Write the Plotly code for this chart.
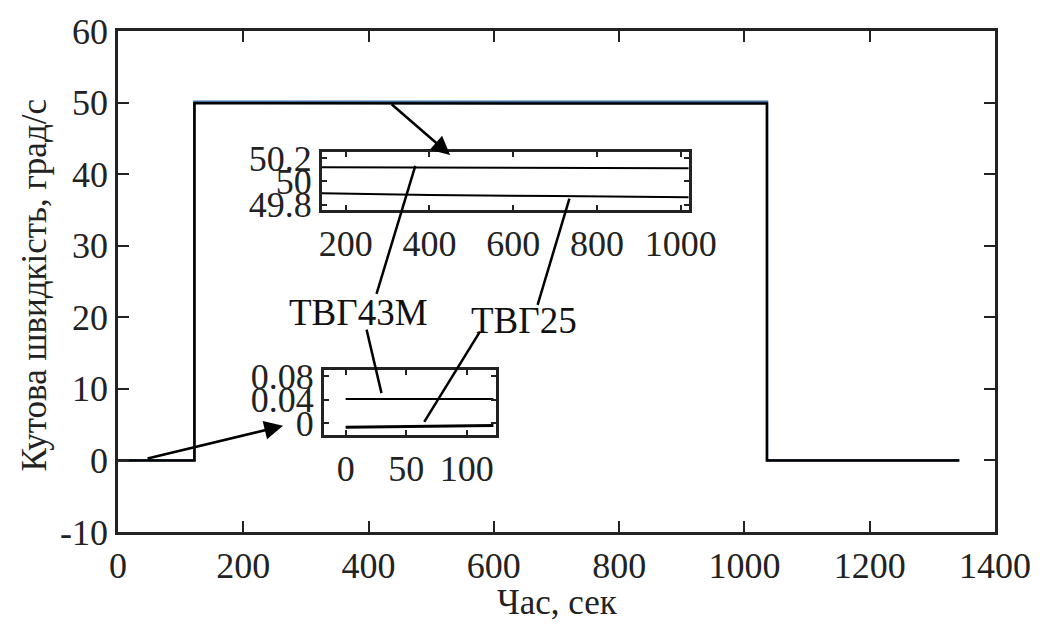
import plotly.graph_objects as go

# ---- data ----
t_main = [0, 122, 122, 1036, 1036, 1343]
tvg43m_main = [0.04, 0.04, 50.12, 50.11, 0.04, 0.04]
tvg25_main = [0.0, 0.0, 49.90, 49.865, 0.0, 0.0]

t_zoom1 = [143, 400, 700, 1019]
tvg43m_zoom1 = [50.12, 50.118, 50.115, 50.112]
tvg25_zoom1 = [49.90, 49.885, 49.875, 49.865]

t_zoom2 = [0, 40, 80, 122]
tvg43m_zoom2 = [0.041, 0.041, 0.041, 0.041]
tvg25_zoom2 = [-0.007, -0.006, -0.005, -0.004]

main_xticks = [0, 200, 400, 600, 800, 1000, 1200, 1400]
main_yticks = [-10, 0, 10, 20, 30, 40, 50, 60]
main_yticklabels = ["-10", "0", "10", "20", "30", "40", "50", "60"]
z1_xticks = [200, 400, 600, 800, 1000]
z1_yticks = [49.8, 50, 50.2]
z1_yticklabels = ["49.8", "50", "50.2"]
z2_xticks = [0, 50, 100]
z2_yticks = [0, 0.04, 0.08]
z2_yticklabels = ["0", "0.04", "0.08"]

FONT = "Liberation Serif"
W, H = 1043, 630
L, R, T, B = 118, 43, 27, 98
PW, PH = W - L - R, H - T - B


def px(x):
    return (x - L) / PW


def py(y):
    return 1 - (y - T) / PH


fig = go.Figure()
fig.add_trace(go.Scatter(x=t_main, y=tvg43m_main, mode="lines", name="ТВГ43М",
                         line=dict(color="#3f6f9f", width=2.5), xaxis="x", yaxis="y"))
fig.add_trace(go.Scatter(x=t_main, y=tvg25_main, mode="lines", name="ТВГ25",
                         line=dict(color="black", width=2.5), xaxis="x", yaxis="y"))
fig.add_trace(go.Scatter(x=t_zoom1, y=tvg43m_zoom1, mode="lines",
                         line=dict(color="black", width=2), xaxis="x2", yaxis="y2"))
fig.add_trace(go.Scatter(x=t_zoom1, y=tvg25_zoom1, mode="lines",
                         line=dict(color="black", width=2), xaxis="x2", yaxis="y2"))
fig.add_trace(go.Scatter(x=t_zoom2, y=tvg43m_zoom2, mode="lines",
                         line=dict(color="black", width=2), xaxis="x3", yaxis="y3"))
fig.add_trace(go.Scatter(x=t_zoom2, y=tvg25_zoom2, mode="lines",
                         line=dict(color="black", width=3), xaxis="x3", yaxis="y3"))

tickfont = dict(family=FONT, size=36, color="#222")
common = dict(showgrid=False, zeroline=False, showline=True, linecolor="#222",
              ticks="inside", mirror="ticks", tickcolor="#222", tickfont=tickfont)

fig.update_layout(
    width=W, height=H, showlegend=False,
    paper_bgcolor="white", plot_bgcolor="white",
    margin=dict(l=L, r=R, t=T, b=B),
    xaxis=dict(range=[0, 1400], tickvals=main_xticks, linewidth=2.5, ticklen=11,
               tickwidth=2, domain=[0, 1], anchor="y", **common),
    yaxis=dict(range=[-10, 60], tickvals=main_yticks, ticktext=main_yticklabels,
               linewidth=2.5, ticklen=11,
               tickwidth=2, domain=[0, 1], anchor="x", **common),
    xaxis2=dict(range=[143, 1019], tickvals=z1_xticks, linewidth=3, ticklen=5,
                tickwidth=1.5, domain=[px(323), px(692)], anchor="y2", **common),
    yaxis2=dict(range=[49.76, 50.25], tickvals=z1_yticks, ticktext=z1_yticklabels,
                linewidth=3, ticklen=5, tickwidth=1.5,
                domain=[py(207), py(149)], anchor="x2", **common),
    xaxis3=dict(range=[-18, 124], tickvals=z2_xticks, linewidth=3, ticklen=5,
                tickwidth=1.5, domain=[px(325), px(498)], anchor="y3", **common),
    yaxis3=dict(range=[-0.02, 0.09], tickvals=z2_yticks, ticktext=z2_yticklabels,
                linewidth=3, ticklen=5, tickwidth=1.5,
                domain=[py(434), py(369)], anchor="x3", **common),
)

# connector lines to labels
for (x0, y0, x1, y1) in [(417, 163, 378, 292), (368, 328, 383, 392),
                         (572, 196, 540, 303), (482, 330, 426, 421)]:
    fig.add_shape(type="line", xref="paper", yref="paper",
                  x0=px(x0), y0=py(y0), x1=px(x1), y1=py(y1),
                  line=dict(color="black", width=2.5))

# arrows
for (hx, hy, tx, ty) in [(452, 152, 392, 100), (284, 425, 147, 458)]:
    fig.add_annotation(x=px(hx), y=py(hy), xref="paper", yref="paper",
                       ax=tx - hx, ay=ty - hy, text="", showarrow=True,
                       arrowhead=2, arrowsize=1.5, arrowwidth=2.5, arrowcolor="black")

labfont = dict(family=FONT, size=37, color="#111")
fig.add_annotation(x=px(360), y=py(311), xref="paper", yref="paper", text="ТВГ43М",
                   xanchor="center", yanchor="middle", showarrow=False, font=labfont)
fig.add_annotation(x=px(526), y=py(319), xref="paper", yref="paper", text="ТВГ25",
                   xanchor="center", yanchor="middle", showarrow=False, font=labfont)

# axis titles
fig.add_annotation(x=px(560), y=py(603), xref="paper", yref="paper", text="Час, сек",
                   xanchor="center", yanchor="middle",
                   showarrow=False, font=dict(family=FONT, size=35, color="#222"))
fig.add_annotation(x=px(35), y=py(283), xref="paper", yref="paper",
                   text="Кутова швидкість, град/с", textangle=-90,
                   xanchor="center", yanchor="middle",
                   showarrow=False, font=dict(family=FONT, size=35, color="#222"))

fig.write_html("out.html")
